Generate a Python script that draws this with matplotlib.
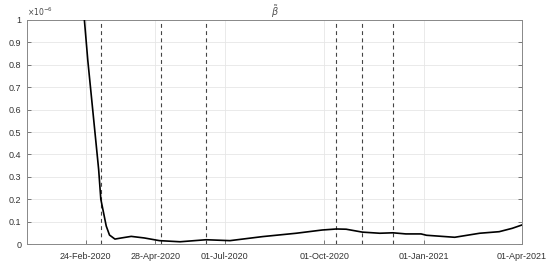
import matplotlib
matplotlib.use("Agg")
import matplotlib.pyplot as plt
import matplotlib.dates as mdates
from matplotlib.ticker import FuncFormatter, MultipleLocator
import numpy as np
import pandas as pd

plt.rcParams['font.family'] = ['Liberation Sans', 'DejaVu Sans']

# beta-tilde estimate (units of 1e-6)
dates = ["2020-02-22", "2020-02-26", "2020-03-07", "2020-03-09", "2020-03-14",
         "2020-03-17", "2020-03-22", "2020-03-28", "2020-04-06", "2020-04-18",
         "2020-05-02", "2020-05-21", "2020-06-14", "2020-07-06", "2020-08-05",
         "2020-09-05", "2020-09-29", "2020-10-12", "2020-10-21", "2020-11-05",
         "2020-11-21", "2020-12-03", "2020-12-15", "2020-12-29", "2021-01-03",
         "2021-01-29", "2021-02-21", "2021-03-11", "2021-03-23", "2021-04-01"]
beta = [1.05, 0.82, 0.333, 0.20, 0.08,
        0.04, 0.022, 0.027, 0.034, 0.027,
        0.015, 0.010, 0.019, 0.015, 0.033,
        0.048, 0.0625, 0.067, 0.066, 0.053,
        0.048, 0.050, 0.045, 0.045, 0.039,
        0.030, 0.048, 0.055, 0.070, 0.085]
scale = 1e-6

event_dates = ["2020-03-09", "2020-05-03", "2020-06-14", "2020-10-12", "2020-11-05", "2020-12-03"]
tick_dates = ["2020-02-24", "2020-04-28", "2020-07-01", "2020-10-01", "2021-01-01", "2021-04-01"]
x_start, x_end = "2020-01-01", "2021-04-01"

fig = plt.figure(figsize=(5.5, 2.68), dpi=100)
ax = fig.add_axes([27/550, 24/268, 495/550, 224/268])

x = pd.to_datetime(dates)
y = np.array(beta) * scale
ax.plot(x, y, color='black', lw=1.2, zorder=3)

for d in event_dates:
    ax.axvline(pd.Timestamp(d), color='#444444', lw=0.8, ls=(0, (3.5, 3)), zorder=2)

ax.set_xlim(pd.Timestamp(x_start), pd.Timestamp(x_end))
ax.set_ylim(0, 1e-6)
ax.set_xticks(pd.to_datetime(tick_dates))
ax.xaxis.set_major_formatter(mdates.DateFormatter('%d-%b-%Y'))
ax.yaxis.set_major_locator(MultipleLocator(0.1e-6))
ax.yaxis.set_major_formatter(FuncFormatter(lambda v, p: f"{round(v*1e6, 2):g}"))

ax.grid(True, color='#e6e6e6', lw=0.6)
ax.set_axisbelow(True)
for s in ax.spines.values():
    s.set_color('#888888')
    s.set_linewidth(0.7)
ax.tick_params(axis='both', direction='in', length=3, width=0.6, color='#666666',
               labelsize=6.5, labelcolor='#333333', pad=4)
ax.tick_params(axis='x', pad=6)
ax.tick_params(top=False, right=True)

ax.set_title(r'$\tilde{\beta}$', fontsize=7, color='#555555', pad=3)
ax.text(0.0, 1.01, r'$\times10^{-6}$', transform=ax.transAxes, fontsize=5.5,
        color='#444444', ha='left', va='bottom')

fig.savefig('out.png', dpi=100)
